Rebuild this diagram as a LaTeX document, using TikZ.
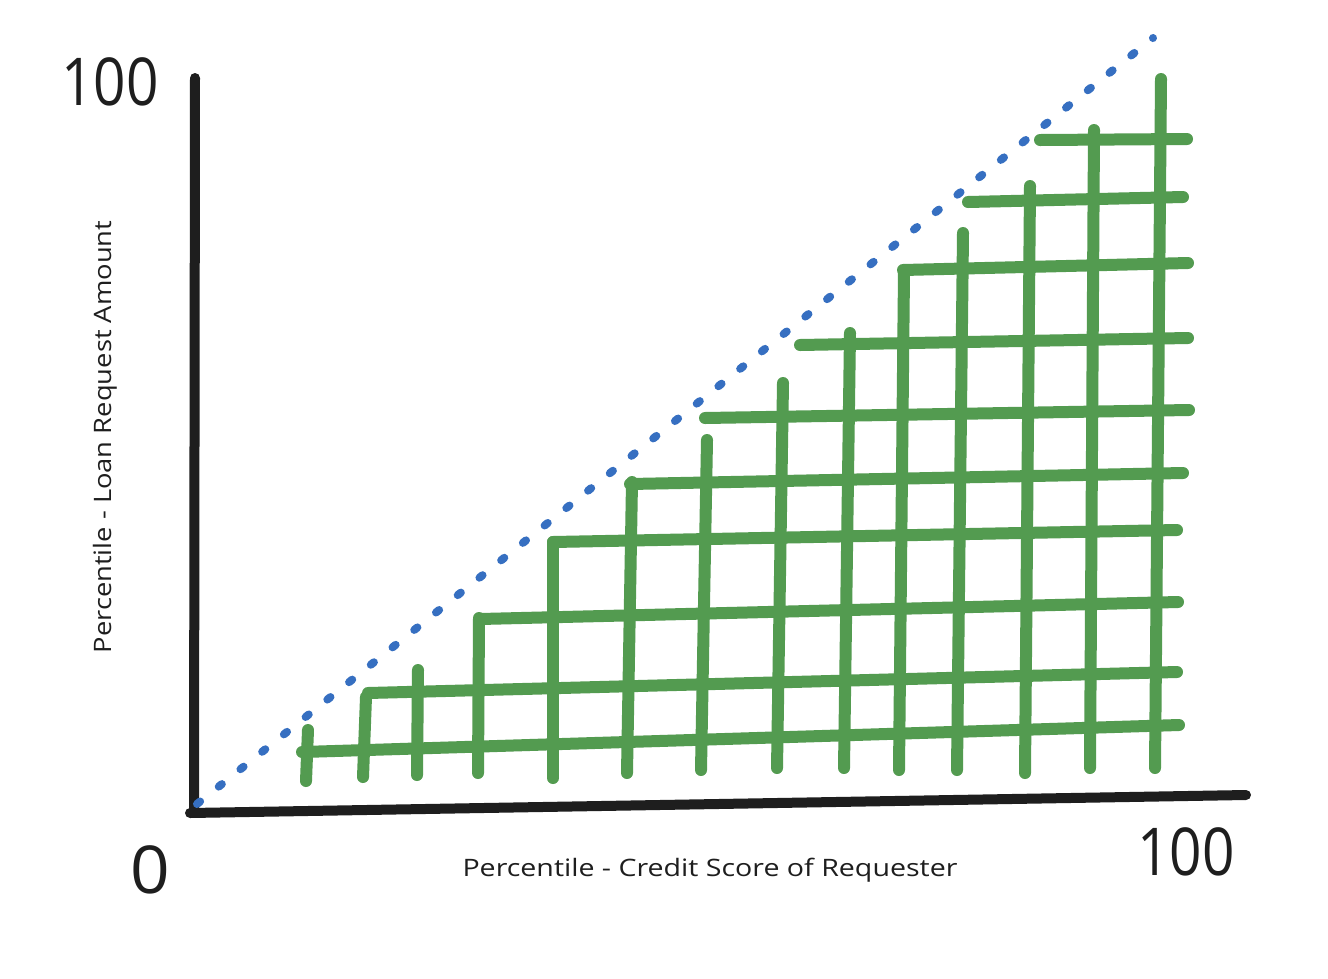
\documentclass[tikz,border=0pt]{standalone}
\usepackage{fontspec}
\setmainfont{Open Sans}
\definecolor{gridgreen}{RGB}{83,155,80}
\definecolor{dotblue}{RGB}{54,111,193}
\definecolor{axisblack}{RGB}{30,30,30}
\tikzset{
  axisline/.style={draw=axisblack, line width=10pt, line cap=round},
  gridline/.style={draw=gridgreen, line width=12pt, line cap=round},
  diagline/.style={draw=dotblue, line width=8pt, line cap=round, dash pattern=on 4pt off 23.84pt},
  bignum/.style={font=\fontsize{66}{66}\selectfont, text=axisblack, inner sep=0pt},
  axislabel/.style={font=\fontsize{24}{24}\selectfont, text=axisblack, inner sep=0pt}
}
\begin{document}
\begin{tikzpicture}[x=1pt,y=-1pt]
\useasboundingbox (0,0) rectangle (1328,978);
\fill[white] (0,0) rectangle (1328,978);
% green grid: vertical lines
\foreach \xt/\yt/\xb/\yb in {308/730/306/781, 366/697/363/777, 418/670/417/775, 479/618/478/773, 553/542/553/778, 632/482/627/773, 707/440/701/770, 783/383/777/768, 850/333/844/768, 904/272/899/770, 963/233/957/770, 1030/186/1025/773, 1094/130/1090/768, 1161/79/1155/768}
  \draw[gridline] (\xt,\yt) -- (\xb,\yb);
% green grid: horizontal lines
\foreach \xl/\yl/\xr/\yr in {302/752/1179/725, 368/693/1177/672, 480/619/1178/602, 553/542/1177/530, 630/484/1183/473, 705/418/1189/410, 800/345/1188/338, 903/270/1188/263, 968/202/1183/197, 1040/140/1187/139}
  \draw[gridline] (\xl,\yl) -- (\xr,\yr);
% axes
\coordinate (ytop) at (195,78);
\coordinate (origin) at (194,812);
\coordinate (xend) at (1246,795);
\draw[axisline] (ytop) -- (origin);
\draw[axisline] (190,813) -- (xend);
% diagonal
\coordinate (dstart) at (197,804);
\coordinate (dend) at (1153,38);
\draw[diagline] (dstart) -- (dend);
% labels
\node[bignum] (ymax) at (110,82) {\scalebox{0.86}[1]{100}};
\node[bignum] (zero) at (150,870) {\scalebox{1.05}[1]{0}};
\node[bignum] (xmax) at (1186,852) {\scalebox{0.86}[1]{100}};
\node[axislabel] (xlabel) at (710,870) {\scalebox{1.19}[1]{Percentile - Credit Score of Requester}};
\node[axislabel, rotate=90] (ylabel) at (105,437) {\scalebox{1.14}[1]{Percentile - Loan Request Amount}};
\end{tikzpicture}
\end{document}
